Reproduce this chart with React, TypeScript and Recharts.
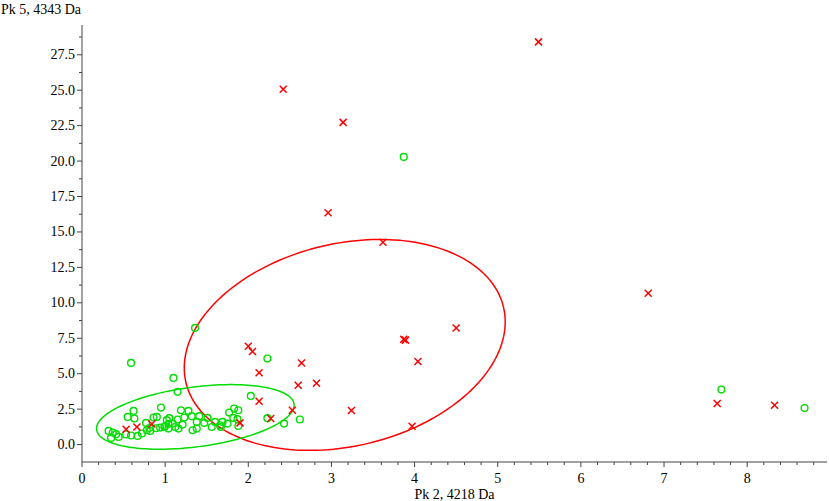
import { ScatterChart, Scatter, XAxis, YAxis } from 'recharts';

// group 1 (green circles): [Pk 2, Pk 5]
const greenPoints: [number, number][] = [
  [3.87, 20.29], [1.36, 8.23], [0.59, 5.76], [1.1, 4.7], [1.15, 3.72], [2.23, 6.07],
  [2.03, 3.43], [2.23, 1.86], [2.43, 1.48], [2.62, 1.77], [7.69, 3.88], [8.69, 2.58],
  [0.32, 0.96], [0.37, 0.85], [0.35, 0.47], [0.41, 0.73], [0.44, 0.54], [0.53, 0.71],
  [0.59, 0.64], [0.55, 1.95], [0.62, 2.37], [0.63, 1.84], [0.67, 0.61], [0.72, 0.78],
  [0.77, 1.53], [0.82, 0.96], [0.86, 1.91], [0.9, 1.95], [0.95, 2.61], [0.89, 1.15],
  [0.94, 1.2], [1.0, 1.31], [1.02, 1.72], [1.05, 1.86], [1.09, 1.48], [1.15, 1.77],
  [1.19, 2.42], [1.21, 1.41], [1.23, 1.91], [1.28, 2.37], [1.32, 2.0], [1.33, 1.01],
  [1.38, 1.13], [1.38, 1.6], [1.41, 2.0], [1.47, 1.53], [1.51, 1.88], [1.56, 1.24],
  [1.6, 1.6], [1.67, 1.24], [1.69, 1.6], [1.75, 1.48], [1.77, 2.26], [1.83, 2.54],
  [1.88, 2.42], [1.82, 1.88], [1.87, 1.79], [1.88, 1.31], [0.78, 1.01], [0.81, 1.17],
  [0.99, 1.24], [1.04, 1.45], [1.16, 1.13], [1.12, 1.24], [1.04, 1.13], [1.66, 1.36],
];

// group 2 (red crosses)
const redPoints: [number, number][] = [
  [5.49, 28.41], [2.42, 25.07], [3.14, 22.73], [2.96, 16.36], [3.62, 14.27], [6.81, 10.68],
  [4.5, 8.23], [3.87, 7.42], [3.89, 7.37], [2.0, 6.94], [2.05, 6.57], [4.04, 5.86],
  [2.64, 5.76], [2.13, 5.06], [2.82, 4.33], [2.6, 4.19], [2.13, 3.06], [3.24, 2.4],
  [2.53, 2.42], [2.27, 1.84], [3.97, 1.29], [1.9, 1.53], [0.53, 1.08], [0.66, 1.24],
  [0.84, 1.45], [7.64, 2.9], [8.33, 2.78],
];

// confidence ellipses: [centre x, centre y, half width, half height, tilt]
const greenEllipse = [1.363, 1.95, 1.188, 2.28, 0.37];
const redEllipse = [3.16, 7.03, 1.93, 7.44, 0.22];

const xMajorTicks = [0, 1, 2, 3, 4, 5, 6, 7, 8];
const yMajorTicks = [0, 2.5, 5, 7.5, 10, 12.5, 15, 17.5, 20, 22.5, 25, 27.5];

const xTicks: number[] = [];
for (let i = 0; i <= 44; i++) xTicks.push(Math.round(i * 2) / 10);
const yTicks: number[] = [];
for (let i = 0; i <= 23; i++) yTicks.push(i * 1.25);

const FONT = '"Liberation Serif", "Times New Roman", serif';
const GREEN = '#00dd00';
const RED = '#ff0000';
const AXIS = '#444444';

const toXY = (pts: [number, number][]) => pts.map(([x, y]) => ({ x, y }));

function outline(e: number[]) {
  const [cx, cy, rx, ry, phi] = e;
  const pts: { x: number; y: number }[] = [];
  for (let i = 0; i <= 180; i++) {
    const t = (i / 180) * Math.PI * 2;
    pts.push({ x: cx + rx * Math.cos(t), y: cy + ry * Math.sin(t + phi) });
  }
  return pts;
}

function XTick({ x, y, payload }: any) {
  const v = payload.value;
  const major = xMajorTicks.some(m => Math.abs(m - v) < 1e-6);
  return (
    <g>
      <line x1={x} x2={x} y1={y} y2={y + (major ? 5 : 3)} stroke={AXIS} />
      {major && (
        <text x={x} y={y + 16} textAnchor="middle" dominantBaseline="central" fontSize={14} fontFamily={FONT} fill="#000">
          {Math.round(v)}
        </text>
      )}
    </g>
  );
}

function YTick({ x, y, payload }: any) {
  const v = payload.value;
  const major = yMajorTicks.some(m => Math.abs(m - v) < 1e-6);
  return (
    <g>
      <line x1={x - (major ? 5 : 3)} x2={x} y1={y} y2={y} stroke={AXIS} />
      {major && (
        <text x={x - 7} y={y} textAnchor="end" dominantBaseline="central" fontSize={14} fontFamily={FONT} fill="#000">
          {v.toFixed(1)}
        </text>
      )}
    </g>
  );
}

const Circle = ({ cx, cy }: any) => <circle cx={cx} cy={cy} r={3.4} fill="none" stroke={GREEN} strokeWidth={1.4} />;

const Cross = ({ cx, cy }: any) => (
  <g stroke={RED} strokeWidth={1.5}>
    <line x1={cx - 3.5} y1={cy - 3.5} x2={cx + 3.5} y2={cy + 3.5} />
    <line x1={cx - 3.5} y1={cy + 3.5} x2={cx + 3.5} y2={cy - 3.5} />
  </g>
);

export default function App() {
  return (
    <div style={{ position: 'absolute', left: 0, top: 0, background: '#fff' }}>
      <ScatterChart width={829} height={501} margin={{ top: 25, right: 2, bottom: 0, left: 0 }} style={{ fontFamily: FONT }}>
        <XAxis
          type="number"
          dataKey="x"
          domain={[0, 8.96]}
          allowDataOverflow
          ticks={xTicks}
          interval={0}
          tickSize={0}
          tickMargin={0}
          tick={<XTick />}
          height={39}
          stroke={AXIS}
          label={{ value: 'Pk 2, 4218 Da', position: 'insideBottom', offset: 2, fill: '#000', fontSize: 14, fontFamily: FONT }}
        />
        <YAxis
          type="number"
          dataKey="y"
          domain={[-1.23, 29.6]}
          allowDataOverflow
          ticks={yTicks}
          interval={0}
          tickSize={0}
          tickMargin={0}
          tick={<YTick />}
          width={82}
          stroke={AXIS}
          label={{ value: 'Pk 5, 4343 Da', position: 'top', offset: 11, fill: '#000', fontSize: 14, fontFamily: FONT }}
        />
        <Scatter data={outline(redEllipse)} line={{ stroke: RED, strokeWidth: 1.5 }} lineType="joint" shape={() => <g />} isAnimationActive={false} />
        <Scatter data={outline(greenEllipse)} line={{ stroke: GREEN, strokeWidth: 1.5 }} lineType="joint" shape={() => <g />} isAnimationActive={false} />
        <Scatter data={toXY(greenPoints)} shape={<Circle />} isAnimationActive={false} />
        <Scatter data={toXY(redPoints)} shape={<Cross />} isAnimationActive={false} />
      </ScatterChart>
    </div>
  );
}
